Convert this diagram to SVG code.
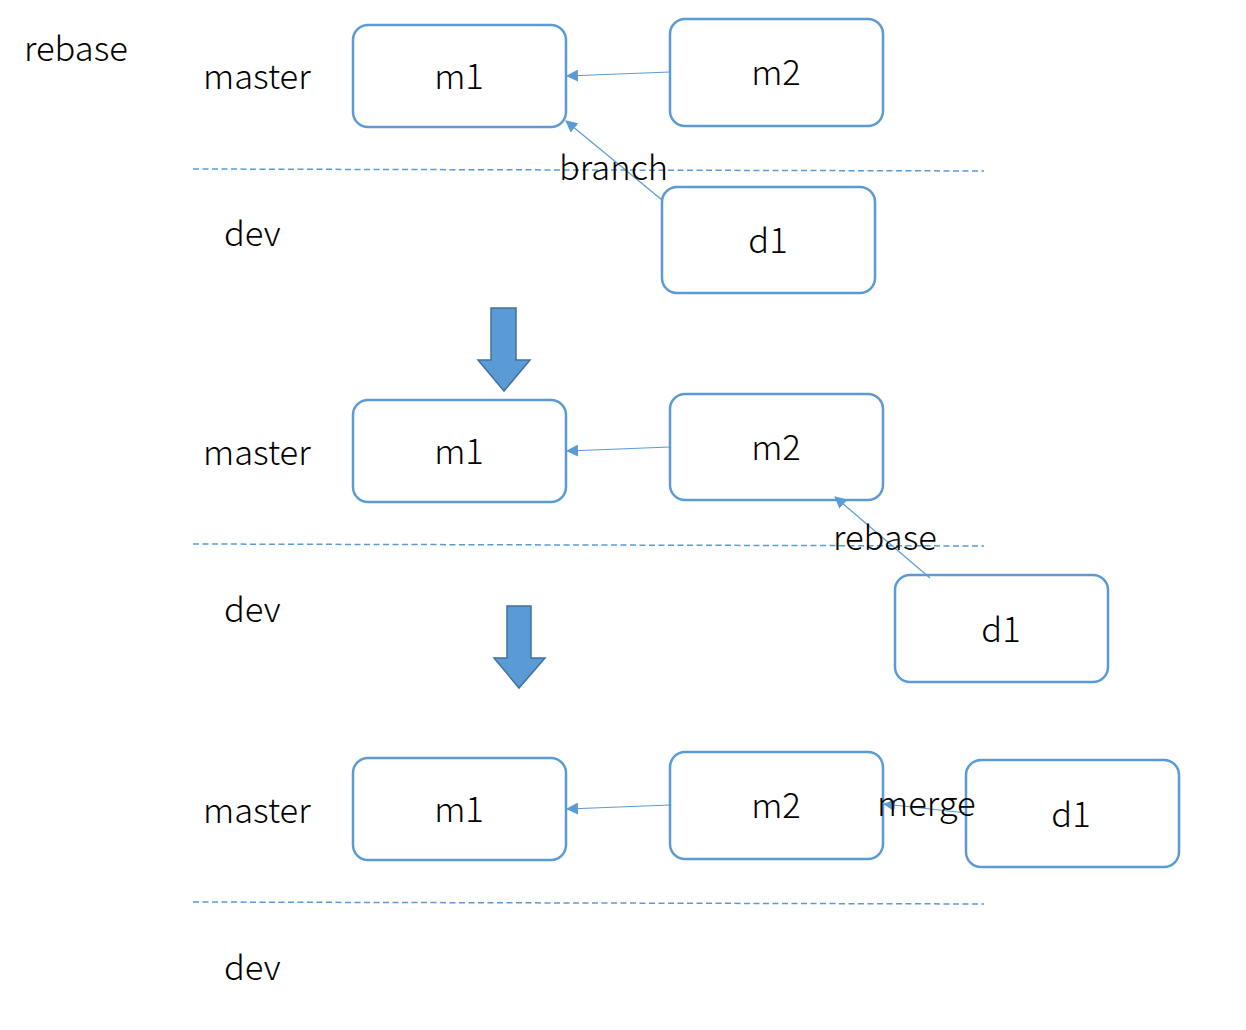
<svg xmlns="http://www.w3.org/2000/svg" width="1246" height="1030" viewBox="0 0 1246 1030">
<defs>
<style>
.box{fill:#fff;stroke:#5b9bd5;stroke-width:2.5}
.t{font-family:"Noto Sans CJK SC","Noto Sans","DejaVu Sans",sans-serif;font-weight:300;font-size:34.5px;fill:#000}
.c{text-anchor:middle}
.dash{stroke:#5b9bd5;stroke-width:1.5;stroke-dasharray:6 3.5;fill:none}
.con{stroke:#5b9bd5;stroke-width:1.2;fill:none;marker-end:url(#ah)}
.big{fill:#5b9bd5;stroke:#41719c;stroke-width:1.5}
</style>
<marker id="ah" viewBox="0 0 12 12" refX="11" refY="6" markerWidth="12" markerHeight="12" markerUnits="userSpaceOnUse" orient="auto">
<path d="M0,0 L12,6 L0,12 Z" fill="#5b9bd5"/>
</marker>
</defs>
<rect width="1246" height="1030" fill="#fff"/>
<g id="lines">
<line class="dash" x1="193" y1="169" x2="984" y2="171"/>
<line class="dash" x1="193" y1="544" x2="984" y2="546"/>
<line class="dash" x1="193" y1="902" x2="984" y2="904"/>
</g>
<g id="labels">
<text class="t" x="24" y="61">rebase</text>
<text class="t" x="203" y="89">master</text>
<text class="t" x="224" y="246">dev</text>
<text class="t" x="203" y="465">master</text>
<text class="t" x="224" y="622">dev</text>
<text class="t" x="203" y="823">master</text>
<text class="t" x="224" y="980">dev</text>
</g>
<g id="r1m1"><rect class="box" x="353" y="25" width="213" height="102" rx="15"/><text class="t c" x="459" y="89">m1</text></g>
<g id="r1m2"><rect class="box" x="670" y="19" width="213" height="107" rx="15"/><text class="t c" x="776" y="85">m2</text></g>
<g id="r1d1"><rect class="box" x="662" y="187" width="213" height="106" rx="15"/><text class="t c" x="768" y="253">d1</text></g>
<g id="r2m1"><rect class="box" x="353" y="400" width="213" height="102" rx="15"/><text class="t c" x="459" y="464">m1</text></g>
<g id="r2m2"><rect class="box" x="670" y="394" width="213" height="106" rx="15"/><text class="t c" x="776" y="460">m2</text></g>
<g id="r2d1"><rect class="box" x="895" y="575" width="213" height="107" rx="15"/><text class="t c" x="1001" y="642">d1</text></g>
<g id="r3m1"><rect class="box" x="353" y="758" width="213" height="102" rx="15"/><text class="t c" x="459" y="822">m1</text></g>
<g id="r3m2"><rect class="box" x="670" y="752" width="213" height="107" rx="15"/><text class="t c" x="776" y="818">m2</text></g>
<g id="r3d1"><rect class="box" x="966" y="760" width="213" height="107" rx="15"/><text class="t c" x="1071" y="827">d1</text></g>
<g id="connectors">
<line class="con" x1="670" y1="72" x2="567" y2="76"/>
<line class="con" x1="662" y1="200" x2="566" y2="121"/>
<line class="con" x1="670" y1="447" x2="567" y2="451"/>
<line class="con" x1="930" y1="578" x2="835" y2="497"/>
<line class="con" x1="670" y1="805" x2="567" y2="809"/>
<line class="con" x1="967" y1="813" x2="884" y2="804"/>
</g>
<g id="edge-labels">
<text class="t" x="559" y="180">branch</text>
<text class="t" x="833" y="550">rebase</text>
<text class="t" x="877" y="816">merge</text>
</g>
<g id="bigarrows">
<path class="big" d="M491,308 H516 V360 H530 L504,391 L478,360 H491 Z"/>
<path class="big" d="M507,606 H531 V658 H545 L519,688 L494,658 H507 Z"/>
</g>
</svg>
